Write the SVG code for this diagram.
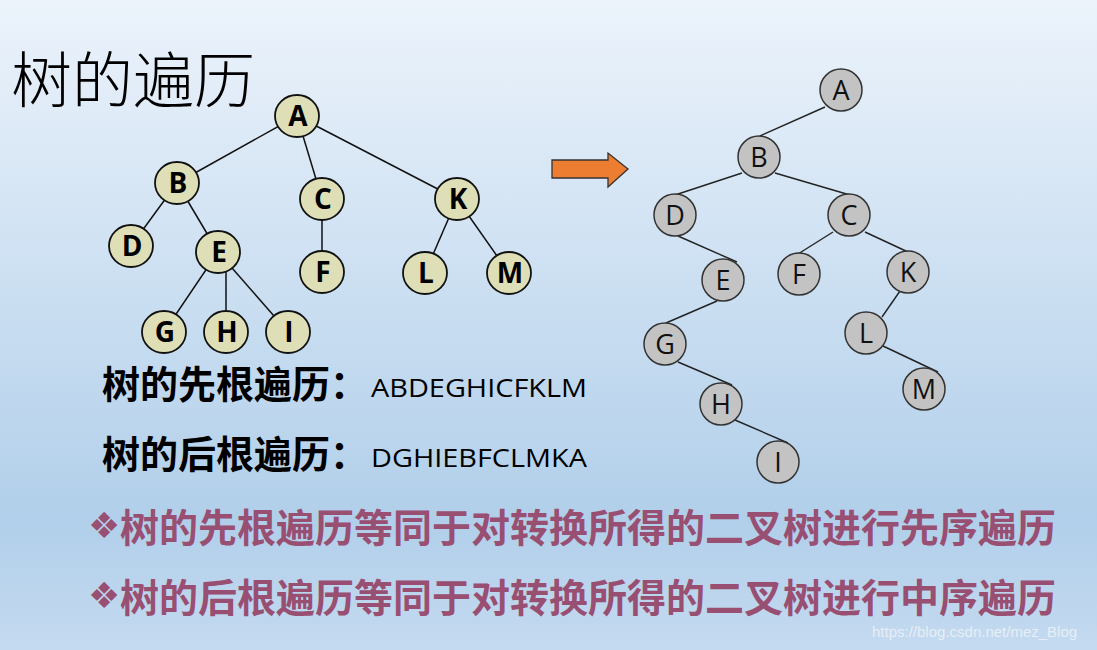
<svg xmlns="http://www.w3.org/2000/svg" width="1097" height="650" viewBox="0 0 1097 650">
<defs>
<linearGradient id="bg" x1="0" y1="0" x2="0" y2="1">
<stop offset="0" stop-color="#ecf3fb"/>
<stop offset="0.8" stop-color="#b1cfea"/>
<stop offset="1" stop-color="#c4daf0"/>
</linearGradient>
<style>
.ln{stroke:#111;stroke-width:1.5;fill:none}
.ln2{stroke:#222;stroke-width:1.4;fill:none}
.n1 ellipse{fill:#dedfb6;stroke:#111;stroke-width:1.8}
.n1 text{font-family:"Open Sans","Liberation Sans",sans-serif;font-weight:bold;font-size:28px;fill:#000;text-anchor:middle}
.n2 circle{fill:#c3c3c3;stroke:#333;stroke-width:1.5}
.n2 text{font-family:"Open Sans","Liberation Sans",sans-serif;font-size:27px;fill:#111;text-anchor:middle}
.cjkb{font-family:"Noto Sans CJK SC",sans-serif;font-weight:bold}
.lat{font-family:"Open Sans","Liberation Sans",sans-serif;font-size:26px;fill:#000}
.pur{fill:#984f72}
</style>
</defs>
<rect width="1097" height="650" fill="url(#bg)"/>
<text x="11" y="103" font-family="Noto Sans CJK SC, sans-serif" font-weight="300" font-size="61" fill="#000">树的遍历</text>

<g id="connectors-left">
<line class="ln" x1="297" y1="116" x2="177" y2="183"/>
<line class="ln" x1="297" y1="116" x2="322" y2="199"/>
<line class="ln" x1="297" y1="116" x2="457" y2="199"/>
<line class="ln" x1="177" y1="183" x2="131" y2="246"/>
<line class="ln" x1="177" y1="183" x2="218" y2="252"/>
<line class="ln" x1="322" y1="199" x2="322" y2="272"/>
<line class="ln" x1="218" y1="252" x2="164" y2="332"/>
<line class="ln" x1="226" y1="260" x2="226" y2="332"/>
<line class="ln" x1="218" y1="252" x2="288" y2="332"/>
<line class="ln" x1="457" y1="199" x2="425" y2="273"/>
<line class="ln" x1="457" y1="199" x2="509" y2="273"/>
</g>
<g id="lA" class="n1"><ellipse cx="297" cy="116" rx="22" ry="21"/><text x="298" y="126">A</text></g>
<g id="lB" class="n1"><ellipse cx="177" cy="183" rx="22" ry="21"/><text x="178" y="193">B</text></g>
<g id="lC" class="n1"><ellipse cx="322" cy="199" rx="22" ry="21"/><text x="323" y="209">C</text></g>
<g id="lK" class="n1"><ellipse cx="457" cy="199" rx="22" ry="21"/><text x="458" y="209">K</text></g>
<g id="lD" class="n1"><ellipse cx="131" cy="246" rx="22" ry="21"/><text x="132" y="256">D</text></g>
<g id="lE" class="n1"><ellipse cx="218" cy="252" rx="22" ry="21"/><text x="219" y="262">E</text></g>
<g id="lF" class="n1"><ellipse cx="322" cy="272" rx="22" ry="21"/><text x="323" y="282">F</text></g>
<g id="lL" class="n1"><ellipse cx="425" cy="273" rx="22" ry="21"/><text x="426" y="283">L</text></g>
<g id="lM" class="n1"><ellipse cx="509" cy="273" rx="22" ry="21"/><text x="510" y="283">M</text></g>
<g id="lG" class="n1"><ellipse cx="164" cy="332" rx="22" ry="21"/><text x="165" y="342">G</text></g>
<g id="lH" class="n1"><ellipse cx="226" cy="332" rx="22" ry="21"/><text x="227" y="342">H</text></g>
<g id="lI" class="n1"><ellipse cx="288" cy="332" rx="22" ry="21"/><text x="289" y="342">I</text></g>

<g id="arrow">
<polygon points="552,160 608,160 608,153 628,169 608,187 608,178 552,178" fill="#ed7d31" stroke="#333" stroke-width="1.3"/>
</g>

<g id="connectors-right">
<line class="ln2" x1="825" y1="107" x2="760" y2="136"/>
<line class="ln2" x1="742" y1="173" x2="675" y2="195"/>
<line class="ln2" x1="775" y1="173" x2="850" y2="195"/>
<line class="ln2" x1="678" y1="236" x2="737" y2="262"/>
<line class="ln2" x1="833" y1="232" x2="798" y2="254"/>
<line class="ln2" x1="865" y1="232" x2="908" y2="252"/>
<line class="ln2" x1="717" y1="301" x2="666" y2="323"/>
<line class="ln2" x1="678" y1="362" x2="732" y2="385"/>
<line class="ln2" x1="735" y1="420" x2="788" y2="443"/>
<line class="ln2" x1="900" y1="291" x2="882" y2="317"/>
<line class="ln2" x1="883" y1="346" x2="938" y2="372"/>
</g>
<g id="rA" class="n2"><circle cx="841" cy="90" r="21"/><text x="841" y="100">A</text></g>
<g id="rB" class="n2"><circle cx="759" cy="157" r="21"/><text x="759" y="167">B</text></g>
<g id="rD" class="n2"><circle cx="675" cy="215" r="21"/><text x="675" y="225">D</text></g>
<g id="rC" class="n2"><circle cx="849" cy="215" r="21"/><text x="849" y="225">C</text></g>
<g id="rE" class="n2"><circle cx="723" cy="280" r="21"/><text x="723" y="290">E</text></g>
<g id="rF" class="n2"><circle cx="799" cy="274" r="21"/><text x="799" y="284">F</text></g>
<g id="rK" class="n2"><circle cx="908" cy="272" r="21"/><text x="908" y="282">K</text></g>
<g id="rG" class="n2"><circle cx="665" cy="344" r="21"/><text x="665" y="354">G</text></g>
<g id="rL" class="n2"><circle cx="866" cy="333" r="21"/><text x="866" y="343">L</text></g>
<g id="rH" class="n2"><circle cx="721" cy="404" r="21"/><text x="721" y="414">H</text></g>
<g id="rM" class="n2"><circle cx="924" cy="389" r="21"/><text x="924" y="399">M</text></g>
<g id="rI" class="n2"><circle cx="778" cy="462" r="21"/><text x="778" y="472">I</text></g>

<text x="102" y="398" class="cjkb" font-size="38" fill="#000">树的先根遍历：</text>
<text x="371" y="397" class="lat" textLength="216" lengthAdjust="spacingAndGlyphs">ABDEGHICFKLM</text>
<text x="102" y="468" class="cjkb" font-size="38" fill="#000">树的后根遍历：</text>
<text x="371" y="467" class="lat" textLength="216" lengthAdjust="spacingAndGlyphs">DGHIEBFCLMKA</text>

<text x="88" y="538" font-family="DejaVu Sans, sans-serif" font-size="36" class="pur">❖</text>
<text x="120" y="542" class="cjkb pur" font-size="39">树的先根遍历等同于对转换所得的二叉树进行先序遍历</text>
<text x="88" y="608" font-family="DejaVu Sans, sans-serif" font-size="36" class="pur">❖</text>
<text x="120" y="612" class="cjkb pur" font-size="39">树的后根遍历等同于对转换所得的二叉树进行中序遍历</text>

<text x="872" y="637" font-family="Liberation Sans, Arial, sans-serif" font-size="15" fill="#eef3f8" fill-opacity="0.85">https://blog.csdn.net/mez_Blog</text>
</svg>
